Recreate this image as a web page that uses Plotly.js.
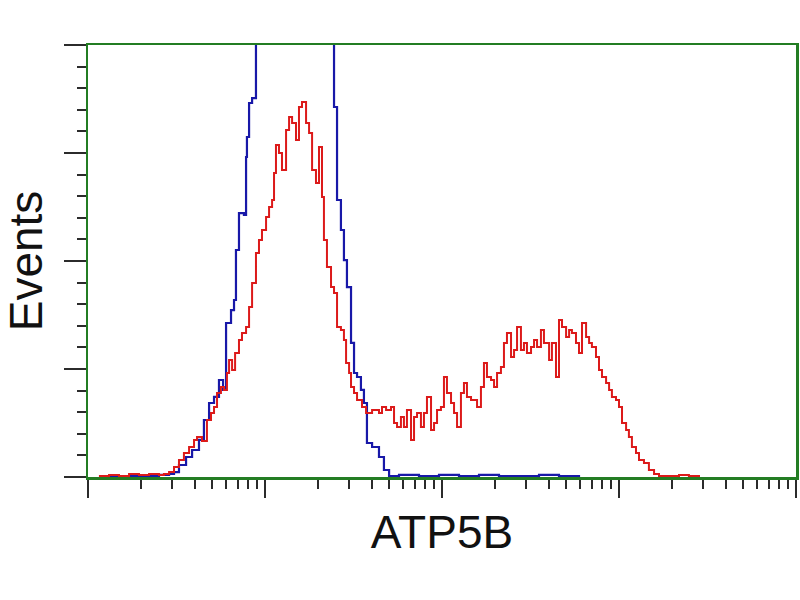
<!DOCTYPE html>
<html>
<head>
<meta charset="utf-8">
<script src="https://cdn.plot.ly/plotly-3.0.1.min.js"></script>
<style>html,body{margin:0;padding:0;background:#fff;}#chart{width:800px;height:600px;}</style>
</head>
<body>
<div id="chart"></div>
<script>
// Fluorescence intensity, given as log10 of the channel value
const redLogIntensity = [0.062,0.119,0.175,0.232,0.288,0.345,0.401,0.429,0.458,0.486,0.514,0.542,0.571,0.599,0.616,0.644,0.672,0.695,0.712,0.729,0.751,0.768,0.785,0.797,0.814,0.831,0.853,0.870,0.893,0.910,0.927,0.949,0.966,0.983,1.006,1.023,1.040,1.051,1.062,1.079,1.096,1.119,1.136,1.153,1.175,1.192,1.209,1.232,1.249,1.266,1.288,1.305,1.322,1.333,1.350,1.373,1.390,1.407,1.429,1.446,1.458,1.475,1.486,1.503,1.520,1.548,1.571,1.588,1.605,1.627,1.644,1.661,1.684,1.712,1.729,1.746,1.768,1.785,1.802,1.825,1.842,1.859,1.881,1.898,1.915,1.938,1.955,1.972,1.994,2.011,2.028,2.051,2.068,2.085,2.107,2.124,2.141,2.164,2.181,2.198,2.220,2.237,2.254,2.277,2.294,2.311,2.333,2.350,2.367,2.390,2.407,2.424,2.446,2.463,2.480,2.503,2.520,2.537,2.559,2.576,2.605,2.621,2.644,2.661,2.678,2.701,2.718,2.734,2.757,2.774,2.791,2.814,2.831,2.847,2.870,2.887,2.904,2.927,2.944,2.960,2.983,3.000,3.017,3.040,3.056,3.073,3.096,3.113,3.141,3.169,3.198,3.226,3.282,3.339,3.395,3.452];
const redEvents = [0.9,1.9,0.9,2.8,1.9,2.8,1.9,2.8,4.6,9.3,15.7,22.2,27.8,34.3,37.0,33.3,52.8,59.3,64.8,77.8,83.3,80.6,96.3,108.3,99.1,114.8,126.9,133.3,138.9,157.4,179.6,207.4,219.5,228.7,240.7,250.0,256.5,281.5,307.4,300.0,284.3,321.3,333.3,327.8,312.0,342.6,347.2,327.8,318.5,284.3,272.2,305.6,259.3,219.5,194.4,175.9,170.4,138.9,136.1,126.9,105.6,96.3,83.3,77.8,71.3,64.8,59.3,59.3,62.0,62.0,59.3,64.8,62.0,64.8,50.0,46.3,55.6,46.3,62.0,34.3,55.6,59.3,46.3,59.3,74.1,43.5,50.0,62.0,64.8,92.6,77.8,68.5,59.3,46.3,77.8,87.0,74.1,71.3,71.3,64.8,83.3,105.6,92.6,89.8,83.3,96.3,101.9,124.1,133.3,111.1,117.6,138.9,117.6,124.1,114.8,120.4,126.9,120.4,136.1,124.1,108.3,124.1,92.6,145.4,138.9,129.6,136.1,133.3,124.1,114.8,142.6,129.6,124.1,120.4,111.1,99.1,92.6,87.0,80.6,74.1,71.3,64.8,50.0,43.5,37.0,27.8,22.2,15.7,13.0,6.5,2.8,0.9,0.9,1.9,0.9,0.0];

const blueLogIntensity = [0.062,0.175,0.288,0.401,0.458,0.486,0.514,0.554,0.588,0.627,0.655,0.684,0.712,0.740,0.763,0.780,0.808,0.825,0.836,0.853,0.881,0.893,0.898,0.910,0.927,0.949,0.977,1.023,1.079,1.136,1.192,1.249,1.305,1.345,1.362,1.390,1.407,1.429,1.446,1.463,1.486,1.503,1.520,1.542,1.559,1.576,1.605,1.644,1.672,1.701,1.757,1.870,1.983,2.096,2.209,2.322,2.435,2.548,2.661,2.774];
const blueEvents = [0.9,0.9,0.9,1.9,2.8,4.6,11.1,18.5,25.0,34.3,52.8,68.5,74.1,89.8,80.6,142.6,154.6,163.9,210.2,244.4,242.6,296.3,314.8,346.3,350.9,430,470,520,570,600,610,590,540,460,405,342.6,256.5,228.7,200.9,175.9,124.1,96.3,92.6,80.6,68.5,31.5,27.8,18.5,6.5,0.9,1.9,0.9,1.9,0.9,1.9,0.9,0.9,1.9,0.9,0.0];

const xTitle = "ATP5B";
const yTitle = "Events";

const toLinear = arr => arr.map(v => Math.pow(10, v));

const traces = [
  {x: toLinear(blueLogIntensity), y: blueEvents, type: 'scatter', mode: 'lines',
   line: {color: '#1818a8', width: 2.2, shape: 'hv'}, hoverinfo: 'skip', showlegend: false},
  {x: toLinear(redLogIntensity), y: redEvents, type: 'scatter', mode: 'lines',
   line: {color: '#dc1a1a', width: 2, shape: 'hv'}, hoverinfo: 'skip', showlegend: false}
];

const tickStyle = {ticks: 'outside', tickcolor: '#2b2b2b', tickwidth: 2};
const layout = {
  width: 800, height: 600,
  paper_bgcolor: '#ffffff', plot_bgcolor: '#ffffff',
  margin: {l: 88, r: 4, t: 45, b: 123},
  font: {family: 'Liberation Sans, Arial, sans-serif', color: '#111'},
  xaxis: Object.assign({
    type: 'log', range: [0, 4], dtick: 1, ticklen: 18,
    showticklabels: false, showgrid: false, zeroline: false,
    showline: true, linecolor: '#237d23', linewidth: 2.5, mirror: true,
    minor: {ticks: 'outside', dtick: 'D1', ticklen: 9, tickwidth: 2, tickcolor: '#2b2b2b', showgrid: false},
    title: {text: xTitle, font: {size: 46, color: '#111'}, standoff: 20}
  }, tickStyle),
  yaxis: Object.assign({
    range: [0, 400], dtick: 100, ticklen: 22,
    showticklabels: false, showgrid: false, zeroline: false,
    showline: true, linecolor: '#237d23', linewidth: 2.5, mirror: true,
    minor: {ticks: 'outside', dtick: 20, ticklen: 9, tickwidth: 2, tickcolor: '#2b2b2b', showgrid: false},
    title: {text: yTitle, font: {size: 46, color: '#111'}, standoff: 36}
  }, tickStyle)
};

Plotly.newPlot('chart', traces, layout, {staticPlot: true, displayModeBar: false});
</script>
</body>
</html>
